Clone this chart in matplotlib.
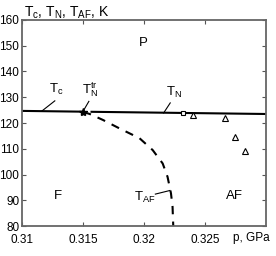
import numpy as np
import matplotlib
matplotlib.use('Agg')
from matplotlib import pyplot as plt

plt.rcParams['font.family'] = ['Liberation Sans', 'DejaVu Sans']
plt.rcParams['mathtext.fontset'] = 'custom'
plt.rcParams['mathtext.rm'] = 'Liberation Sans'
plt.rcParams['mathtext.it'] = 'Liberation Sans'

# phase boundaries (p in GPa, T in K)
tc_p = [0.31, 0.315]
tc_T = [124.7, 124.4]
tn_p = [0.3157, 0.33]
tn_T = [124.35, 123.5]
taf_p = [0.315, 0.31555, 0.31663, 0.31799, 0.31963, 0.32071, 0.32153, 0.32193, 0.32221, 0.32234, 0.3224]
taf_T = [124.3, 123.5, 121.2, 117.9, 114.1, 109.5, 104.3, 99.1, 92.7, 87.5, 79.7]
tricrit_p = [0.315]
tricrit_T = [124.3]
sq_p = [0.3232]
sq_T = [124.0]
tri_p = [0.32405, 0.32661, 0.32743, 0.32827]
tri_T = [123.0, 122.1, 114.7, 109.2]
xticks = [0.31, 0.315, 0.32, 0.325]
xticklabels = ['0.31', '0.315', '0.32', '0.325']
yticks = [80, 90, 100, 110, 120, 130, 140, 150, 160]

fig = plt.figure(figsize=(2.76, 2.56), dpi=100)
ax = fig.add_axes([0.0797, 0.117, 0.8841, 0.805])

ax.plot(tc_p, tc_T, color='black', lw=1.5)
ax.plot(tn_p, tn_T, color='black', lw=1.5)
ax.plot(taf_p, taf_T, color='black', lw=1.5, dashes=(4, 3.5))
ax.plot(tricrit_p, tricrit_T, marker='*', color='black', ms=6, ls='none')
ax.plot(sq_p, sq_T, marker='s', mfc='white', mec='black', ms=3.5, mew=0.8, ls='none')
ax.plot(tri_p, tri_T, marker='^', mfc='white', mec='black', ms=4, mew=0.8, ls='none')

ax.set_xlim(0.31, 0.33)
ax.set_ylim(80, 160)
ax.set_xticks(xticks)
ax.set_xticklabels(xticklabels)
ax.set_yticks(yticks)
ax.tick_params(direction='in', top=True, right=True, labelsize=8.5, length=3,
               color='#555555', pad=2)
ax.tick_params(axis='x', pad=6)
for s in ax.spines.values():
    s.set_color('#666666')
    s.set_linewidth(1.3)

fs = 9.5
ax.text(0.31995, 151, 'P', fontsize=fs, ha='center', va='center')
ax.text(0.31294, 91.6, 'F', fontsize=fs, ha='center', va='center')
ax.text(0.3274, 91.6, 'AF', fontsize=fs, ha='center', va='center')

ax.text(0.3128, 130.0, r'T$_{\rm c}$', fontsize=fs, ha='center', va='bottom')
ax.plot([0.31269, 0.31163], [128.6, 124.65], color='black', lw=0.8)
ax.text(0.3156, 129.5, r'T$_{\rm N}^{\rm tr}$', fontsize=fs, ha='center', va='bottom')
ax.plot([0.31548, 0.3150], [128.4, 124.5], color='black', lw=0.8)
ax.text(0.3225, 129.0, r'T$_{\rm N}$', fontsize=fs, ha='center', va='bottom')
ax.plot([0.32215, 0.32161], [127.8, 123.9], color='black', lw=0.8)
ax.text(0.3201, 91.0, r'T$_{\rm AF}$', fontsize=fs, ha='center', va='center')
ax.plot([0.32093, 0.32212], [92.4, 93.8], color='black', lw=0.8)

fig.text(0.087, 0.936, r'T$_{\rm c}$, T$_{\rm N}$, T$_{\rm AF}$, K', fontsize=10, ha='left', va='baseline')
fig.text(0.978, 0.117 - 0.025, 'p, GPa', fontsize=8.5, ha='right', va='top')

plt.savefig('out.png', dpi=100)
